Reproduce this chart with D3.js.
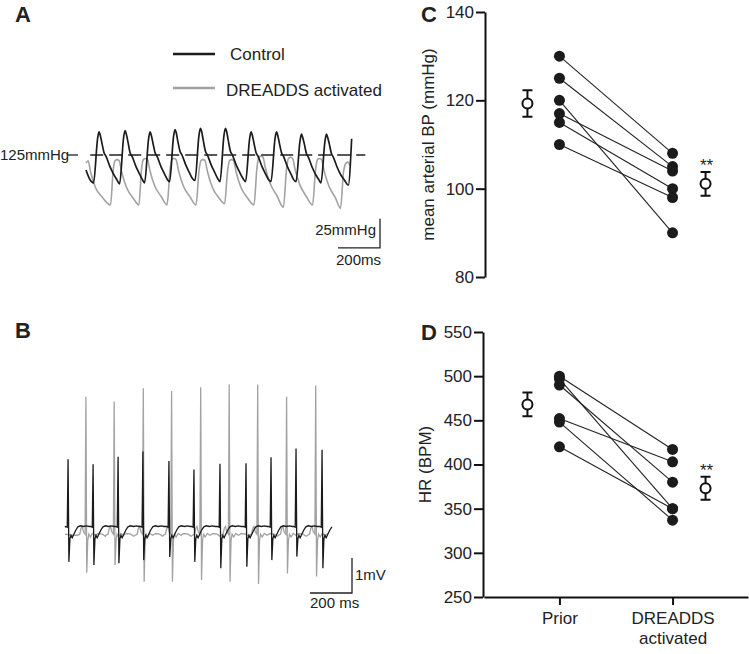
<!DOCTYPE html>
<html><head><meta charset="utf-8">
<script src="https://cdn.jsdelivr.net/npm/d3@7"></script>
<style>
body{margin:0;background:#fff;}
svg{display:block;font-family:"Liberation Sans",Arial,Helvetica,sans-serif;}
</style></head><body>
<svg id="c" width="749" height="654"></svg>
<script>
// ---------- DATA ----------
// Panel A: arterial pressure traces [time ms, mmHg]
const bpControlTrace = [
[0,112],[18,104],[36,101],
[55,139],[62,145],[68,142],[75,136],[86,127],[95,124],[114,115],[130,109],[146,104],
[160,100],[179,140],[186,146],[192,143],[199,137],[210,127],[219,124],[238,115],[254,109],[268,104],
[279,101],[298,139],[305,145],[311,142],[318,136],[329,127],[338,124],[357,115],[373,109],[387,104],
[398,102],[417,141],[424,147],[430,144],[437,137],[448,128],[457,125],[476,116],[492,110],[506,105],
[519,103],[538,142],[545,148],[551,145],[558,138],[569,128],[578,125],[597,116],[613,110],[626,105],
[638,102],[657,142],[664,148],[670,145],[677,138],[688,128],[697,125],[716,116],[732,110],[747,105],
[760,102],[779,139],[786,145],[792,142],[799,136],[810,127],[819,124],[838,115],[854,109],[868,104],
[881,102],[900,139],[907,145],[913,142],[920,136],[931,127],[940,124],[959,115],[975,109],[988,104],
[1000,102],[1019,137],[1026,143],[1032,140],[1039,135],[1050,126],[1059,123],[1078,114],[1094,108],[1108,104],
[1119,101],[1138,137],[1145,143],[1151,140],[1158,135],[1169,126],[1178,123],[1197,114],[1213,108],[1232,103],
[1249,99],[1265,139]
];
const bpDreaddsTrace = [
[0,118],[10,120],[21,111],[45,97],[76,89],
[117,82],[129,111],[138,120],[148,121],[158,120],[169,111],[193,97],[224,88],
[252,82],[264,112],[273,121],[283,122],[293,121],[304,112],[328,98],[359,89],
[386,82],[400,112],[409,121],[419,122],[429,121],[440,112],[464,98],[495,89],
[524,82],[538,111],[547,120],[557,121],[567,120],[578,111],[602,97],[633,88],
[660,83],[674,111],[683,120],[693,121],[703,120],[714,111],[738,97],[769,88],
[800,82],[814,114],[823,123],[833,124],[843,123],[854,114],[878,100],[909,90],
[940,80],[955,113],[964,122],[974,123],[984,122],[995,113],[1019,99],[1050,89],
[1079,82],[1093,112],[1102,121],[1112,122],[1122,121],[1133,112],[1157,98],[1188,88],
[1212,79],[1226,110],[1238,118],[1248,119],[1256,116]
];
const bpReferenceLevel = 125;

// Panel B: ECG [spike time ms], [R peak mV], [S trough mV]
const ecgControlSpikeT = [15,137,259,380,507,629,756,883,1005,1127,1254];
const ecgControlTop    = [2.02,1.88,2.09,2.24,1.97,1.73,1.89,1.91,2.08,2.33,2.29];
const ecgControlBottom = [-0.91,-1.0,-0.95,-0.86,-0.77,-0.91,-1.09,-1.05,-0.86,-0.76,-1.09];
const ecgDreaddsSpikeT = [102,240,382,520,662,801,940,1081,1223];
const ecgDreaddsTop    = [3.81,3.67,4.05,3.97,4.08,4.16,4.16,3.81,4.13];
const ecgDreaddsBottom = [-1.22,-1.0,-1.48,-1.48,-1.43,-1.48,-1.54,-1.24,-1.33];
// beat morphology (offset ms from spike, mV)
const ecgControlBefore = [[-12,0.1],[-4,0.08]];
const ecgControlAfter  = [[9,-0.25],[14,-0.15],[20,-0.22],[28,-0.12],[38,0.0],[48,0.09],[60,0.12],[75,0.1],[90,0.12],[104,0.1]];
const ecgDreaddsBefore = [[-40,-0.15],[-30,-0.12],[-24,0.05],[-18,0.1],[-12,-0.05],[-4,-0.12]];
const ecgDreaddsAfter  = [[9,-0.3],[14,-0.12],[22,-0.2],[32,-0.1],[45,-0.15],[60,-0.1],[80,-0.12],[95,-0.18]];

// Panels C, D
const groups = ["Prior","DREADDS activated"];
const mapPrior   = [130,125,120,117,115,110];
const mapDreadds = [108,105,90,104,100,98];
const mapMean = [119.3,101.1];
const mapSem  = [3.0,2.7];
const mapTicks = [80,100,120,140];
const hrPrior   = [500,497,490,452,448,420];
const hrDreadds = [417,350,380,403,337,350];
const hrMean = [468,373];
const hrSem  = [13.5,13];
const hrTicks = [250,300,350,400,450,500,550];

// ---------- DRAW ----------
const svg = d3.select("#c");
const BLACK = "#1b1b1b", GRAY = "#a2a2a2", TXT = "#222";

function label(x,y,t,size,weight,anchor){
  return svg.append("text").attr("x",x).attr("y",y).text(t)
    .attr("font-size",size).attr("font-weight",weight||"normal")
    .attr("text-anchor",anchor||"start").attr("fill",TXT);
}
label(15,22,"A",22,"bold");
label(15,338,"B",22,"bold");
label(421,22,"C",22,"bold");
label(421,340,"D",22,"bold");

// ---- Panel A ----
const xA = d3.scaleLinear().domain([0,1000]).range([86,296]);
const yA = d3.scaleLinear().domain([125,150]).range([155,126]);
const lineA = d3.line().x(d=>xA(d[0])).y(d=>yA(d[1])).curve(d3.curveMonotoneX);
const gA = svg.append("g");
gA.append("path").attr("d",lineA(bpDreaddsTrace)).attr("fill","none").attr("stroke",GRAY).attr("stroke-width",1.6);
gA.append("line").attr("x1",xA(20)).attr("x2",xA(1330)).attr("y1",yA(bpReferenceLevel)).attr("y2",yA(bpReferenceLevel))
  .attr("stroke","#222").attr("stroke-width",1.3).attr("stroke-dasharray","13,6");
gA.append("path").attr("d",lineA(bpControlTrace)).attr("fill","none").attr("stroke",BLACK).attr("stroke-width",1.7);
label(0,160,"125mmHg",15);
gA.append("line").attr("x1",68).attr("x2",78).attr("y1",yA(bpReferenceLevel)).attr("y2",yA(bpReferenceLevel)).attr("stroke","#222").attr("stroke-width",1.3);
// legend
gA.append("line").attr("x1",173).attr("x2",215).attr("y1",54).attr("y2",54).attr("stroke",BLACK).attr("stroke-width",2.5);
label(230,60,"Control",17);
gA.append("line").attr("x1",173).attr("x2",215).attr("y1",88).attr("y2",88).attr("stroke",GRAY).attr("stroke-width",2.5);
label(226,96,"DREADDS activated",17);
// scale bar
gA.append("path").attr("d",`M${xA(1200)},${yA(45)}H${xA(1400)}V${yA(70)}`).attr("fill","none").attr("stroke","#222").attr("stroke-width",1.3);
label(376,235,"25mmHg",15,"normal","end");
label(336,265,"200ms",15);

// ---- Panel B ----
const xB = d3.scaleLinear().domain([0,1000]).range([65,270]);
const yB = d3.scaleLinear().domain([0,1]).range([530,495]);
function buildEcg(times,tops,bottoms,before,after,start,end){
  const pts = start.slice();
  times.forEach((t,i)=>{
    before.forEach(p=>pts.push([t+p[0],p[1]]));
    pts.push([t,tops[i]]); pts.push([t+4,bottoms[i]]);
    after.forEach(p=>pts.push([t+p[0],p[1]]));
  });
  return pts.filter(p=>p[0]>=0 && p[0]<=end).sort((a,b)=>a[0]-b[0]);
}
const ecgCtrl = buildEcg(ecgControlSpikeT,ecgControlTop,ecgControlBottom,ecgControlBefore,ecgControlAfter,[[0,0.08]],1307);
const ecgDr = buildEcg(ecgDreaddsSpikeT,ecgDreaddsTop,ecgDreaddsBottom,ecgDreaddsBefore,ecgDreaddsAfter,[[0,-0.12],[30,-0.15]],1293);
const lineB = d3.line().x(d=>xB(d[0])).y(d=>yB(d[1]));
const gB = svg.append("g");
gB.append("path").attr("d",lineB(ecgDr)).attr("fill","none").attr("stroke",GRAY).attr("stroke-width",1.3);
gB.append("path").attr("d",lineB(ecgCtrl)).attr("fill","none").attr("stroke",BLACK).attr("stroke-width",1.3);
gB.append("path").attr("d",`M${xB(1195)},${yB(-1.8)}H${xB(1400)}V${yB(-0.8)}`).attr("fill","none").attr("stroke","#222").attr("stroke-width",1.3);
label(355,580,"1mV",15);
label(310,608,"200 ms",15);

// ---- Panels C & D ----
const xCD = d3.scalePoint().domain(groups).range([484,748]).padding(0.667);
const meanOffset = [-32,33];
function pairedPanel(yScale, prior, after, mean, sem, ticks, axisX, ylab, labX, showX){
  const g = svg.append("g");
  const ax = g.append("g").attr("transform",`translate(${axisX},0)`)
    .call(d3.axisLeft(yScale).tickValues(ticks).tickSize(9).tickPadding(2).tickSizeOuter(0));
  ax.select(".domain").attr("stroke","#111").attr("stroke-width",2);
  ax.selectAll(".tick line").attr("stroke","#111").attr("stroke-width",2);
  ax.selectAll(".tick text").attr("font-size",17).attr("fill",TXT).attr("font-family",null);
  if(showX){
    const bx = g.append("g").attr("transform",`translate(0,${yScale.range()[0]})`)
      .call(d3.axisBottom(xCD).tickSize(8).tickPadding(7).tickSizeOuter(0));
    bx.select(".domain").attr("stroke","#111").attr("stroke-width",2);
    bx.selectAll(".tick line").attr("stroke","#111").attr("stroke-width",2);
    bx.selectAll(".tick text").attr("font-size",17).attr("fill",TXT).attr("font-family",null)
      .each(function(d){
        const t = d3.select(this); const w = d.split(" "); t.text(null);
        w.forEach((s,i)=>t.append("tspan").attr("x",0).attr("dy",i? "1.2em":"0.71em").text(s));
      });
  }
  g.append("text").attr("transform",`translate(${labX},${(yScale.range()[0]+yScale.range()[1])/2}) rotate(-90)`)
    .attr("text-anchor","middle").attr("font-size",17).attr("fill",TXT).text(ylab);
  // paired lines
  prior.forEach((v,i)=>{
    g.append("line").attr("x1",xCD(groups[0])).attr("y1",yScale(v))
      .attr("x2",xCD(groups[1])).attr("y2",yScale(after[i]))
      .attr("stroke","#222").attr("stroke-width",1.1);
  });
  [prior,after].forEach((arr,k)=>{
    g.selectAll(null).data(arr).enter().append("circle")
      .attr("cx",xCD(groups[k])).attr("cy",d=>yScale(d)).attr("r",5.5).attr("fill",BLACK);
  });
  // mean +/- sem
  mean.forEach((m,k)=>{
    const cx = xCD(groups[k])+meanOffset[k];
    const y1 = yScale(m+sem[k]), y2 = yScale(m-sem[k]);
    g.append("path").attr("d",`M${cx},${y1}V${y2}M${cx-5},${y1}H${cx+5}M${cx-5},${y2}H${cx+5}`)
      .attr("stroke","#111").attr("stroke-width",2).attr("fill","none");
    g.append("circle").attr("cx",cx).attr("cy",yScale(m)).attr("r",5).attr("fill","#fff").attr("stroke","#111").attr("stroke-width",2);
    if(k===1){
      g.append("text").attr("x",cx+1).attr("y",y1-1).attr("text-anchor","middle").attr("font-size",17).attr("fill",TXT).text("**");
    }
  });
}
const yC = d3.scaleLinear().domain([80,140]).range([277,12]);
const yD = d3.scaleLinear().domain([250,550]).range([597,332]);
pairedPanel(yC, mapPrior, mapDreadds, mapMean, mapSem, mapTicks, 485, "mean arterial BP (mmHg)", 434, false);
pairedPanel(yD, hrPrior, hrDreadds, hrMean, hrSem, hrTicks, 483, "HR (BPM)", 431, true);
</script>
</body></html>
